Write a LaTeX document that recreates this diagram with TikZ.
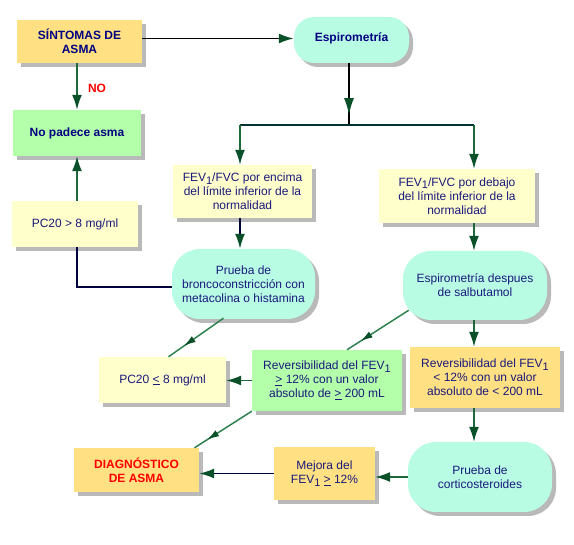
\documentclass[tikz,border=0pt]{standalone}
\usepackage{fontspec}
\setmainfont{Liberation Sans}
\usetikzlibrary{arrows.meta,shadows,decorations.markings}
\definecolor{orangefill}{RGB}{255,224,130}
\definecolor{yellowfill}{RGB}{255,255,204}
\definecolor{greenfill}{RGB}{180,255,170}
\definecolor{cyanfill}{RGB}{184,252,228}
\definecolor{navytext}{RGB}{25,25,125}
\definecolor{boldnavy}{RGB}{0,0,128}
\definecolor{lgreen}{RGB}{30,105,60}
\definecolor{dgreen}{RGB}{46,130,80}
\definecolor{ahead}{RGB}{10,80,40}
\definecolor{dteal}{RGB}{0,50,50}
\definecolor{dnavy}{RGB}{0,0,60}
\newcommand\subone{\raisebox{-0.4ex}{\fontsize{11}{11}\selectfont 1}}
\begin{document}
\begin{tikzpicture}[x=1pt,y=-1pt,
  base/.style={inner sep=2pt, align=center, text=navytext,
    font=\fontsize{12}{14}\selectfont,
    drop shadow={shadow xshift=4pt, shadow yshift=-4pt, opacity=0.55}},
  orangebox/.style={base, fill=orangefill},
  yellowbox/.style={base, fill=yellowfill},
  greenbox/.style={base, fill=greenfill},
  pill/.style={base, fill=cyanfill, rounded corners=#1},
  boldtext/.style={font=\fontsize{12}{14}\selectfont\bfseries, text=boldnavy},
  tip/.style={-{Latex[length=15pt,width=10pt,color=ahead]}},
  gline/.style={draw=lgreen, line width=1.6pt},
  kline/.style={draw=black, line width=1.8pt},
  nline/.style={draw=dnavy, line width=1.8pt},
  dline/.style={draw=dgreen, line width=1.5pt},
  midtip/.style={postaction={decorate}, decoration={markings,
    mark=at position #1 with {\arrow{Latex[length=12pt,width=7pt,color=ahead]}}}},
  bigmidtip/.style={postaction={decorate}, decoration={markings,
    mark=at position #1 with {\arrow{Latex[length=17pt,width=10pt,color=ahead]}}}},
]
\useasboundingbox (0,0) rectangle (574,545);

% nodes
\node[orangebox, boldtext, minimum width=125pt, minimum height=43pt] (sint) at (79.5,41.5) {SÍNTOMAS DE\\ASMA};
\node[pill=20pt, boldtext, minimum width=115pt, minimum height=46pt] (espiro) at (351.5,40) {\raisebox{6pt}{Espirometría}};
\node[greenbox, boldtext, minimum width=128pt, minimum height=46pt] (nopadece) at (77,133) {No padece asma};
\node[yellowbox, minimum width=139pt, minimum height=53pt] (fevA) at (242.5,191.5) {FEV\subone/FVC por encima\\del límite inferior de la\\normalidad};
\node[yellowbox, minimum width=156pt, minimum height=54pt] (fevB) at (457,196) {FEV\subone/FVC por debajo\\del límite inferior de la\\normalidad};
\node[yellowbox, minimum width=126pt, minimum height=46pt] (pc20a) at (75,224) {PC20 > 8 mg/ml};
\node[pill=28pt, minimum width=143pt, minimum height=70pt] (prueba) at (243.5,284) {Prueba de\\broncoconstricción con\\metacolina o histamina};
\node[pill=28pt, minimum width=144pt, minimum height=69pt] (espiroB) at (475,285.5) {Espirometría despues\\de salbutamol};
\node[orangebox, minimum width=150pt, minimum height=61pt] (revB) at (485,377.5) {Reversibilidad del FEV\subone\\< 12\% con un valor\\absoluto de < 200 mL};
\node[greenbox, minimum width=150pt, minimum height=61pt] (revA) at (327,380.5) {Reversibilidad del FEV\subone\\\underline{>} 12\% con un valor\\absoluto de \underline{>} 200 mL};
\node[yellowbox, minimum width=127pt, minimum height=46pt] (pc20b) at (162.5,380) {PC20 \underline{<} 8 mg/ml};
\node[orangebox, minimum width=125pt, minimum height=44pt, font=\fontsize{12}{14}\selectfont\bfseries, text=red] (diag) at (136.5,470) {DIAGNÓSTICO\\DE ASMA};
\node[orangebox, minimum width=101pt, minimum height=53pt] (mejora) at (324.5,473.5) {Mejora del\\FEV\subone{} \underline{>} 12\%};
\node[pill=28pt, minimum width=144pt, minimum height=70pt] (cortico) at (480,477) {Prueba de\\corticosteroides};

\node[font=\fontsize{12}{14}\selectfont\bfseries, text=red] (no) at (97,88) {NO};

\coordinate (j) at (349,125);
\coordinate (jl) at (240,125);
\coordinate (jr) at (474,125);

% connectors
\draw[kline, tip] ([yshift=3pt]sint.east) -- ([yshift=3pt]sint.east -| espiro.west);
\draw[gline, tip] (nopadece.north |- sint.south) -- (nopadece.north);
\draw[kline, bigmidtip=0.84] (j |- espiro.south) -- (j);
\draw[dteal, line width=2pt] (jl) -- (jr);
\draw[gline, tip] (jl) -- (jl |- fevA.north);
\draw[gline, tip] (jr) -- (jr |- fevB.north);
\draw[nline, tip] (jl |- fevA.south) -- (jl |- prueba.north);
\draw[gline, tip] (jr |- fevB.south) -- (jr |- espiroB.north);
\draw[gline, tip] (jr |- espiroB.south) -- (jr |- revB.north);
\draw[gline, tip] (jr |- revB.south) -- (jr |- cortico.north);
\draw[gline, tip] (cortico.west) -- (cortico.west -| mejora.east);
\draw[nline, tip] (mejora.west) -- (mejora.west -| diag.east);
\draw[gline, tip] (revA.west) -- (revA.west -| pc20b.east);
\draw[gline, tip] (nopadece.south |- pc20a.north) -- (nopadece.south);
\draw[nline] (nopadece.south |- pc20a.south) |- ([yshift=-3pt]prueba.west);
\draw[dline, midtip=0.72] ([xshift=-20pt,yshift=1pt]prueba.south) -- ([xshift=6pt]pc20b.north);
\draw[dline, midtip=0.78] ([xshift=6pt,yshift=10pt]espiroB.south west) -- ([xshift=20pt]revA.north);
\draw[dline, midtip=0.78] (revA.south west) -- ([xshift=58pt]diag.north);
\end{tikzpicture}
\end{document}
